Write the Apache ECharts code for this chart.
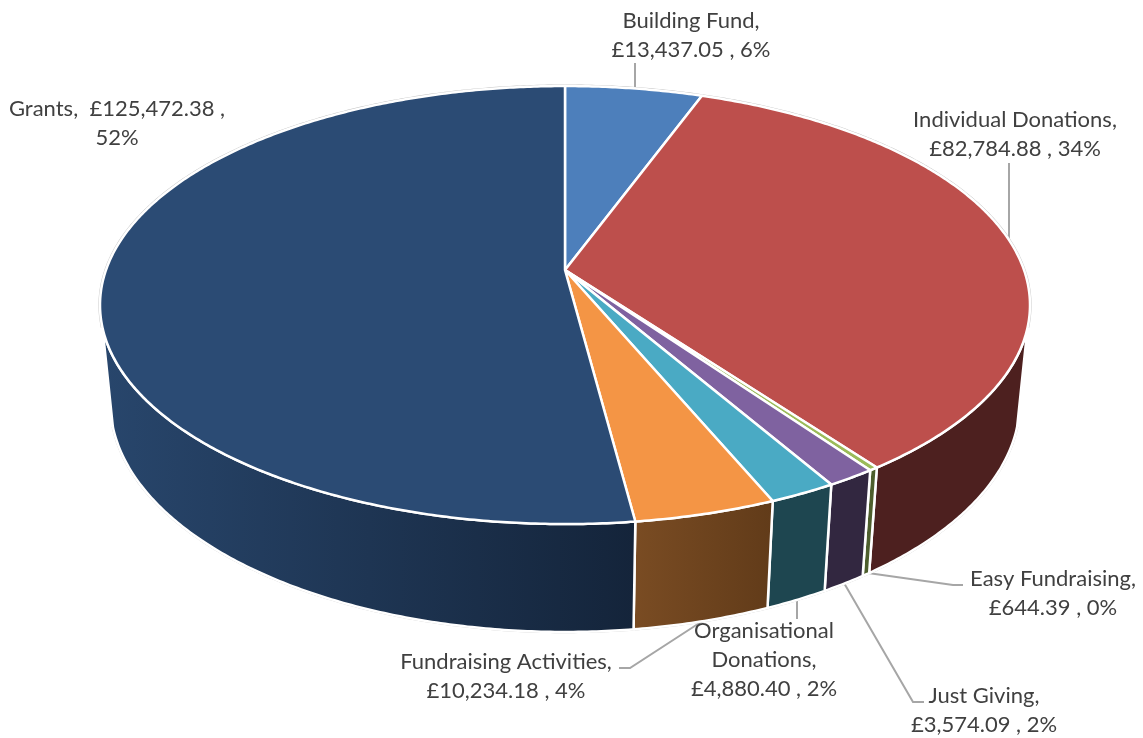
<!DOCTYPE html>
<html>
<head>
<meta charset="utf-8">
<style>
  html, body { margin: 0; padding: 0; background: #fff; }
  #chart { width: 1143px; height: 738px; }
</style>
<script src="https://cdn.jsdelivr.net/npm/echarts@6/dist/echarts.min.js"></script>
</head>
<body>
<div id="chart"></div>
<script>
// data, clockwise from twelve o'clock
const sliceNames = ['Building Fund', 'Individual Donations', 'Easy Fundraising', 'Just Giving', 'Organisational Donations', 'Fundraising Activities', 'Grants']
const sliceValues = [13437.05, 82784.88, 644.39, 3574.09, 4880.40, 10234.18, 125472.38]
const sliceLabels = [
  'Building Fund,\n£13,437.05 , 6%',
  'Individual Donations,\n£82,784.88 , 34%',
  'Easy Fundraising,\n£644.39 , 0%',
  'Just Giving,\n£3,574.09 , 2%',
  'Organisational\nDonations,\n£4,880.40 , 2%',
  'Fundraising Activities,\n£10,234.18 , 4%',
  'Grants,  £125,472.38 ,\n52%'
]

// colours
const topColors = ['#4d7fbb', '#bd4f4c', '#9bbb59', '#7f62a0', '#4aaac4', '#f49545', '#2b4b74']
const wallColors = [
  ['#27405e', '#27405e'],
  ['#4d201f', '#4d201f'],
  ['#4d5e2c', '#4d5e2c'],
  ['#322740', '#322740'],
  ['#1e4650', '#1e4650'],
  ['#7a4c23', '#613b19'],
  ['#28466c', '#14243a']
]

// label layout: text centre and leader line
const labelPos = [[691, 35], [1015, 134], [1053, 593], [984, 710], [764, 660], [506, 676], [117, 123]]
const leaderLines = [
  [[635, 63], [635, 88]],
  [[1009, 163], [1009, 240]],
  [[868, 573], [953, 585], [963, 585]],
  [[844, 583], [913, 702], [924, 702]],
  [[797, 598], [797, 619]],
  [[704, 620], [630, 668], [619, 668]],
  null
]

// perspective of the tilted cylinder
const view = { cx: 565, cy: 270, a: 459, b: 213.4, k: 0.16, g: 0.022, c: 98.6, front: [105, 255] }

const total = sliceValues.reduce((s, v) => s + v, 0)

function project(deg, depth) {
  const t = deg * Math.PI / 180
  const u = Math.sin(t)
  const v = Math.cos(t)
  const w = 1 + view.k * v + view.g * depth
  return [view.cx + view.a * u / w, view.cy + (-view.b * v + view.c * depth) / w]
}

function arc(from, to, depth) {
  const pts = []
  const n = Math.max(2, Math.ceil((to - from) * 2))
  for (let i = 0; i <= n; i++) pts.push(project(from + (to - from) * i / n, depth))
  return pts
}

function sliceAngles(index) {
  let before = 0
  for (let i = 0; i < index; i++) before += sliceValues[i]
  return [before / total * 360, (before + sliceValues[index]) / total * 360]
}

function renderWall(params, api) {
  const [a0, a1] = sliceAngles(params.dataIndex)
  const from = Math.max(a0, view.front[0])
  const to = Math.min(a1, view.front[1])
  if (to <= from) return null
  const topEdge = arc(from, to, 0)
  const bottomEdge = arc(from, to, 1)
  const colors = wallColors[params.dataIndex]
  return {
    type: 'group',
    children: [
      {
        type: 'polyline',
        shape: { points: bottomEdge },
        style: { fill: null, stroke: '#c4c4c4', lineWidth: 2.5 }
      },
      {
        type: 'polygon',
        shape: { points: topEdge.concat(bottomEdge.slice().reverse()) },
        style: {
          fill: {
            type: 'linear', x: 0, y: 0, x2: 1, y2: 0,
            colorStops: [{ offset: 0, color: colors[0] }, { offset: 1, color: colors[1] }]
          },
          stroke: '#fff',
          lineWidth: 2.5
        }
      }
    ]
  }
}

// thin grey outline round the back of the pie, under the white slice borders
function renderBackRim(params, api) {
  const [a0, a1] = sliceAngles(params.dataIndex)
  const children = []
  if (a0 < view.front[0]) {
    children.push({
      type: 'polyline',
      shape: { points: arc(a0, Math.min(a1, view.front[0]), 0) },
      style: { fill: null, stroke: '#c4c4c4', lineWidth: 3.2 }
    })
  }
  if (a1 > view.front[1]) {
    children.push({
      type: 'polyline',
      shape: { points: arc(Math.max(a0, view.front[1]), a1, 0) },
      style: { fill: null, stroke: '#c4c4c4', lineWidth: 3.2 }
    })
  }
  return { type: 'group', children }
}

function renderTop(params, api) {
  const [a0, a1] = sliceAngles(params.dataIndex)
  return {
    type: 'polygon',
    shape: { points: [[view.cx, view.cy]].concat(arc(a0, a1, 0)) },
    style: { fill: topColors[params.dataIndex], stroke: '#fff', lineWidth: 2.5, lineJoin: 'round' }
  }
}

const chartData = sliceNames.map((name, i) => ({ name, value: sliceValues[i] }))

// leader lines and labels
const labelGraphics = []
leaderLines.forEach((line) => {
  if (!line) return
  labelGraphics.push({
    type: 'polyline',
    shape: { points: line },
    style: { fill: null, stroke: '#a6a6a6', lineWidth: 2 }
  })
})
sliceLabels.forEach((text, i) => {
  labelGraphics.push({
    type: 'text',
    x: labelPos[i][0],
    y: labelPos[i][1],
    style: {
      text,
      fill: '#404040',
      font: '22px Lato',
      lineHeight: 29,
      align: 'center',
      verticalAlign: 'middle'
    }
  })
})

const chart = echarts.init(document.getElementById('chart'))
chart.setOption({
  animation: false,
  backgroundColor: '#fff',
  tooltip: { show: false },
  series: [
    { type: 'custom', name: 'walls', coordinateSystem: 'none', data: chartData, renderItem: renderWall, silent: true, z: 1 },
    { type: 'custom', name: 'rim', coordinateSystem: 'none', data: chartData, renderItem: renderBackRim, silent: true, z: 2 },
    { type: 'custom', name: 'slices', coordinateSystem: 'none', data: chartData, renderItem: renderTop, silent: true, z: 3 }
  ],
  graphic: { elements: labelGraphics }
})
</script>
</body>
</html>
